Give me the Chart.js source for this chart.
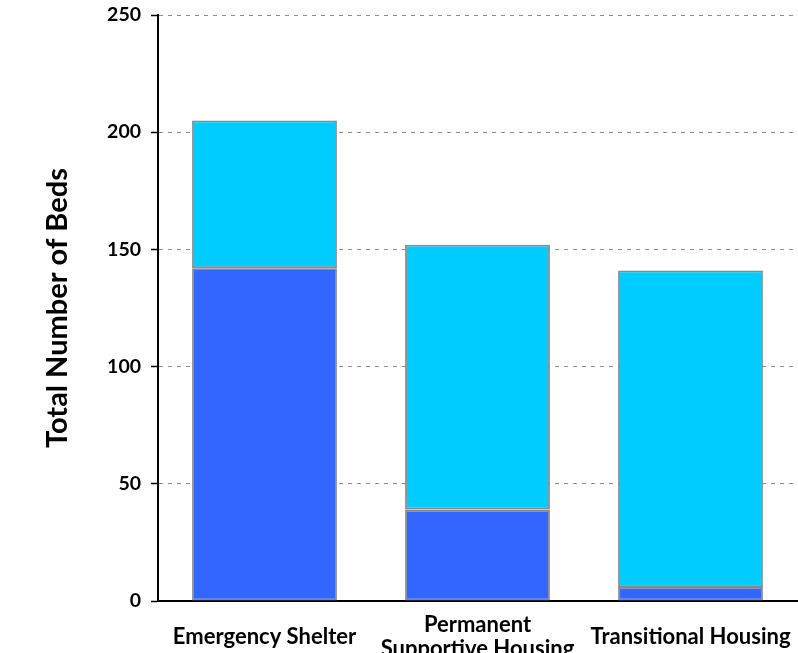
<!DOCTYPE html>
<html>
<head>
<meta charset="utf-8">
<script src="https://cdn.jsdelivr.net/npm/chart.js@4"></script>
<style>
  html, body { margin: 0; padding: 0; background: #fff; overflow: hidden; }
  #wrap { position: relative; width: 798px; height: 662px; }
</style>
</head>
<body>
<div id="wrap"><canvas id="chartBeds"></canvas></div>
<script>
const categories = ['Emergency Shelter', ['Permanent', 'Supportive Housing'], 'Transitional Housing'];
const bottomBeds = [142, 39, 6];
const topBeds = [63, 113, 135];
const yTicks = [0, 50, 100, 150, 200, 250];

const fontFamily = 'Lato, "Open Sans", sans-serif';

const ctx = document.getElementById('chartBeds').getContext('2d');
new Chart(ctx, {
    type: 'bar',
    data: {
        labels: categories,
        datasets: [
            {
                label: 'bottom',
                data: bottomBeds,
                backgroundColor: '#3366FF',
                borderColor: '#888888',
                borderWidth: 1.8,
                borderSkipped: false
            },
            {
                label: 'top',
                data: topBeds,
                backgroundColor: '#00CCFF',
                borderColor: '#888888',
                borderWidth: 1.8,
                borderSkipped: false
            }
        ]
    },
    options: {
        responsive: true,
        maintainAspectRatio: false,
        animation: false,
        layout: { padding: { top: 15, right: 1, left: 0, bottom: 0 } },
        plugins: {
            legend: { display: false },
            tooltip: { enabled: false }
        },
        datasets: { bar: { barPercentage: 0.68, categoryPercentage: 1 } },
        scales: {
            x: {
                stacked: true,
                afterFit: (scale) => {
                    scale.height = 61;
                    scale.paddingLeft = 0;
                    scale.paddingRight = 0;
                },
                grid: { display: false },
                border: { display: true, color: '#000', width: 2 },
                ticks: {
                    color: '#000',
                    padding: 16,
                    maxRotation: 0,
                    autoSkip: false,
                    crossAlign: 'center',
                    font: { family: fontFamily, size: 22, weight: 'bold', lineHeight: 1.1 }
                }
            },
            y: {
                stacked: true,
                min: 0,
                max: 250,
                afterBuildTicks: (scale) => { scale.ticks = yTicks.map(v => ({ value: v })); },
                afterFit: (scale) => {
                    scale.width = 158;
                    scale.paddingTop = 0;
                    scale.paddingBottom = 0;
                },
                grid: {
                    color: '#8C8C8C',
                    lineWidth: 1,
                    drawTicks: true,
                    tickLength: 7,
                    tickColor: '#000',
                    tickWidth: 1.5
                },
                border: { display: true, color: '#000', width: 2, dash: [4, 5] },
                ticks: {
                    color: '#000',
                    padding: 10,
                    font: { family: fontFamily, size: 19.5, weight: 'bold' }
                },
                title: {
                    display: true,
                    text: 'Total Number of Beds',
                    color: '#000',
                    padding: { top: 40, bottom: 0 },
                    font: { family: fontFamily, size: 29, weight: 'bold' }
                }
            }
        }
    }
});
</script>
</body>
</html>
